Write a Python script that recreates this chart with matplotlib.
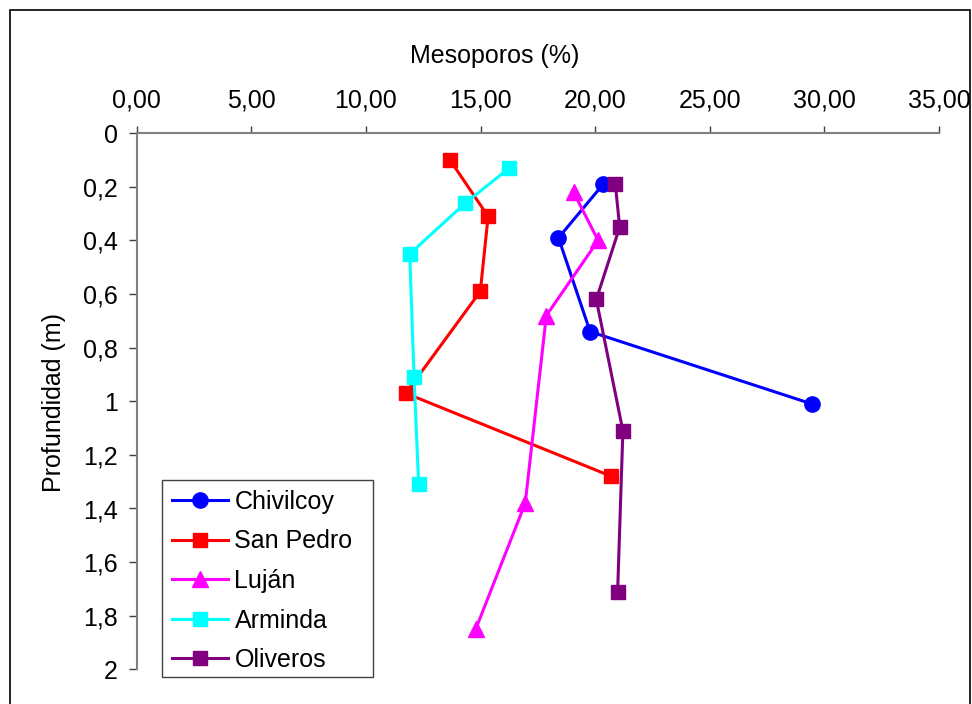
import matplotlib
matplotlib.use("Agg")
import matplotlib.pyplot as plt
from matplotlib.patches import Rectangle
from matplotlib.ticker import FixedLocator, FixedFormatter

plt.rcParams['font.family'] = ['Liberation Sans', 'DejaVu Sans']

# Mesopore content (%) versus depth (m) for each site
chivilcoy_x = [20.35, 18.40, 19.78, 29.46]
chivilcoy_y = [0.19, 0.39, 0.74, 1.01]

san_pedro_x = [13.67, 15.33, 14.99, 11.74, 20.71]
san_pedro_y = [0.10, 0.31, 0.59, 0.97, 1.28]

lujan_x = [19.06, 20.13, 17.87, 16.95, 14.79]
lujan_y = [0.22, 0.40, 0.68, 1.38, 1.85]

arminda_x = [16.25, 14.34, 11.91, 12.10, 12.30]
arminda_y = [0.13, 0.26, 0.45, 0.91, 1.31]

oliveros_x = [20.88, 21.07, 20.05, 21.21, 20.98]
oliveros_y = [0.19, 0.35, 0.62, 1.11, 1.71]

x_ticks = [0, 5, 10, 15, 20, 25, 30, 35]
x_tick_labels = ["0,00", "5,00", "10,00", "15,00", "20,00", "25,00", "30,00", "35,00"]
y_ticks = [0, 0.2, 0.4, 0.6, 0.8, 1.0, 1.2, 1.4, 1.6, 1.8, 2.0]
y_tick_labels = ["0", "0,2", "0,4", "0,6", "0,8", "1", "1,2", "1,4", "1,6", "1,8", "2"]

FS = 18
W, H = 972, 704
fig = plt.figure(figsize=(W / 100, H / 100), dpi=100)

# outer chart border
fig.patches.append(Rectangle((10 / W, -0.05), 960 / W, 1.05 - 10 / H,
                             transform=fig.transFigure, fill=False,
                             edgecolor="black", linewidth=1.2))

ax = fig.add_axes([136.7 / W, 1 - 669.3 / H, (939 - 136.7) / W, (669.3 - 133.3) / H])

series = [
    ("Chivilcoy", chivilcoy_x, chivilcoy_y, "#0000FF", "o", 11),
    ("San Pedro", san_pedro_x, san_pedro_y, "#FF0000", "s", 10.5),
    ("Luján", lujan_x, lujan_y, "#FF00FF", "^", 12),
    ("Arminda", arminda_x, arminda_y, "#00FFFF", "s", 10.5),
    ("Oliveros", oliveros_x, oliveros_y, "#800080", "s", 10.5),
]
for name, xs, ys, col, mk, ms in series:
    ax.plot(xs, ys, color=col, linewidth=2.2, marker=mk, markersize=ms,
            markerfacecolor=col, markeredgecolor=col, label=name, clip_on=False)

ax.set_xlim(0, 35)
ax.set_ylim(2, 0)

ax.xaxis.set_ticks_position("top")
ax.xaxis.set_major_locator(FixedLocator(x_ticks))
ax.xaxis.set_major_formatter(FixedFormatter(x_tick_labels))
ax.yaxis.set_major_locator(FixedLocator(y_ticks))
ax.yaxis.set_major_formatter(FixedFormatter(y_tick_labels))

for side in ["right", "bottom"]:
    ax.spines[side].set_visible(False)
for side in ["top", "left"]:
    ax.spines[side].set_color("#808080")
    ax.spines[side].set_linewidth(1.5)

ax.tick_params(axis="x", direction="out", length=5, width=1, color="#404040",
               labelsize=FS, pad=10)
ax.tick_params(axis="y", direction="out", length=5.5, width=1, color="#404040",
               labelsize=FS, pad=8)

fig.text(494.5 / W, 1 - 63 / H, "Mesoporos (%)", ha="center", va="baseline", fontsize=FS)
fig.text(54 / W, 1 - 403 / H, "Profundidad (m)", ha="center", va="center",
         rotation=90, fontsize=FS)

# legend box with its own frame
fig.patches.append(Rectangle((162 / W, 1 - 677 / H), (373 - 162) / W, (677 - 480) / H,
                             transform=fig.transFigure, facecolor="white",
                             edgecolor="#404040", linewidth=1.0, zorder=2))
leg = fig.legend(loc="upper left", bbox_to_anchor=(162 / W, 1 - 480 / H),
                 bbox_transform=fig.transFigure, borderaxespad=0,
                 fontsize=FS, frameon=False,
                 handlelength=2.25, handletextpad=0.25, labelspacing=0.62,
                 borderpad=0.4)
leg.set_zorder(3)

fig.savefig("out.png", dpi=100)
